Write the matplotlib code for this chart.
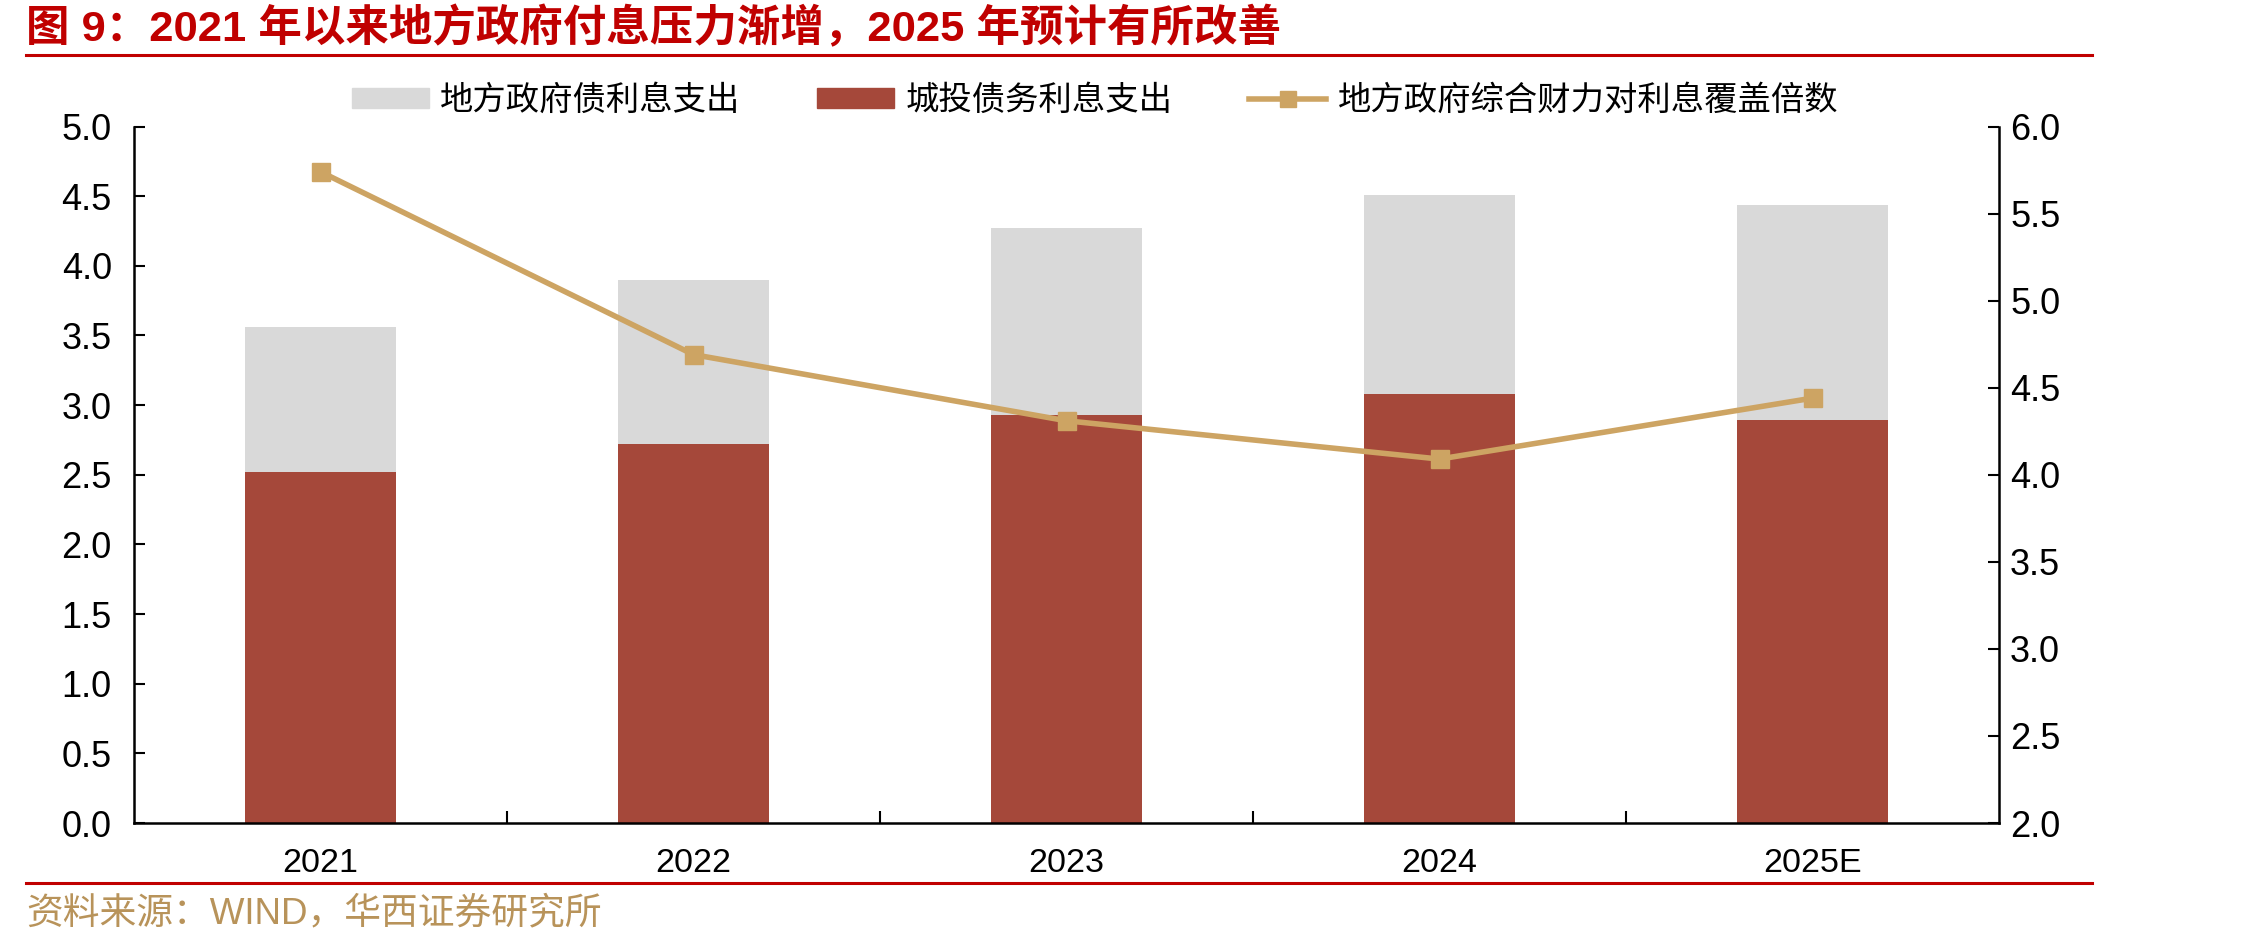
import matplotlib
matplotlib.use("Agg")
import matplotlib.pyplot as plt
from matplotlib.lines import Line2D
import numpy as np

plt.rcParams['font.family'] = ['Liberation Sans', 'Noto Sans CJK SC', 'DejaVu Sans']

categories = ['2021', '2022', '2023', '2024', '2025E']
chengtou_interest = [2.52, 2.72, 2.93, 3.08, 2.89]
local_total_interest = [3.56, 3.90, 4.27, 4.51, 4.44]
coverage_ratio = [5.74, 4.69, 4.31, 4.09, 4.44]

s_local = '地方政府债利息支出'
s_ct = '城投债务利息支出'
s_cov = '地方政府综合财力对利息覆盖倍数'
title = '图 9：2021 年以来地方政府付息压力渐增，2025 年预计有所改善'
source = '资料来源：WIND，华西证券研究所'

c_gray = '#D9D9D9'
c_red = '#A5483A'
c_gold = '#CDA463'
c_title = '#C00000'
c_src = '#B8935A'

W, H = 2255, 947
fig = plt.figure(figsize=(W / 100, H / 100), dpi=100)
ax = fig.add_axes([134 / W, 1 - 823 / H, (1999 - 134) / W, (823 - 126.5) / H])
x = np.arange(len(categories))
bw = 0.405
ax.bar(x, local_total_interest, bw, color=c_gray, zorder=1)
ax.bar(x, chengtou_interest, bw, color=c_red, zorder=2)
ax.set_xlim(-0.5, len(categories) - 0.5)
ax.set_ylim(0, 5)
ax.set_yticks(np.arange(0, 5.01, 0.5))
ax.set_yticklabels([f'{v:.1f}' for v in np.arange(0, 5.01, 0.5)])
ax.set_xticks(x)
ax.set_xticklabels(categories)
ax.set_xticks(np.arange(0.5, len(categories) - 0.5, 1), minor=True)
ax.tick_params(axis='x', which='major', length=0, pad=18, labelsize=24.5)
ax.tick_params(axis='x', which='minor', direction='in', length=9, width=1.5)
ax.tick_params(axis='y', direction='in', length=8, width=1.5, pad=16, labelsize=26)
for s in ['top', 'right']:
    ax.spines[s].set_visible(False)
for s in ['left', 'bottom']:
    ax.spines[s].set_linewidth(1.8)

ax2 = ax.twinx()
ax2.plot(x, coverage_ratio, color=c_gold, lw=4, marker='s', markersize=13,
         markerfacecolor=c_gold, markeredgecolor=c_gold, zorder=5)
ax2.set_ylim(2, 6)
ax2.set_yticks(np.arange(2, 6.01, 0.5))
ax2.set_yticklabels([f'{v:.1f}' for v in np.arange(2, 6.01, 0.5)])
ax2.tick_params(axis='y', direction='in', length=8, width=1.5, pad=8, labelsize=26)
for s in ['top', 'left', 'bottom']:
    ax2.spines[s].set_visible(False)
ax2.spines['right'].set_linewidth(1.8)

handles = [plt.Rectangle((0, 0), 1, 1, color=c_gray),
           plt.Rectangle((0, 0), 1, 1, color=c_red),
           Line2D([], [], color=c_gold, lw=4, marker='s', markersize=12)]
fig.legend(handles, [s_local, s_ct, s_cov], loc='center', bbox_to_anchor=(1095 / W, 1 - 100 / H),
           ncol=3, frameon=False, handlelength=2.3, handleheight=0.55,
           handletextpad=0.35, columnspacing=2.3,
           prop={'family': ['Noto Sans CJK SC'], 'size': 24})

fig.text(26 / W, 1 - 29 / H, title, color=c_title, fontsize=31.3, fontweight='bold',
         va='center', ha='left')
fig.add_artist(Line2D([26 / W, 2092 / W], [1 - 55 / H, 1 - 55 / H], color=c_title, lw=2.2))
fig.add_artist(Line2D([26 / W, 2092 / W], [1 - 883 / H, 1 - 883 / H], color=c_title, lw=2.2))
fig.text(26 / W, 1 - 914 / H, source, color=c_src, fontsize=26.5, va='center', ha='left')

fig.savefig('out.png', dpi=100)
